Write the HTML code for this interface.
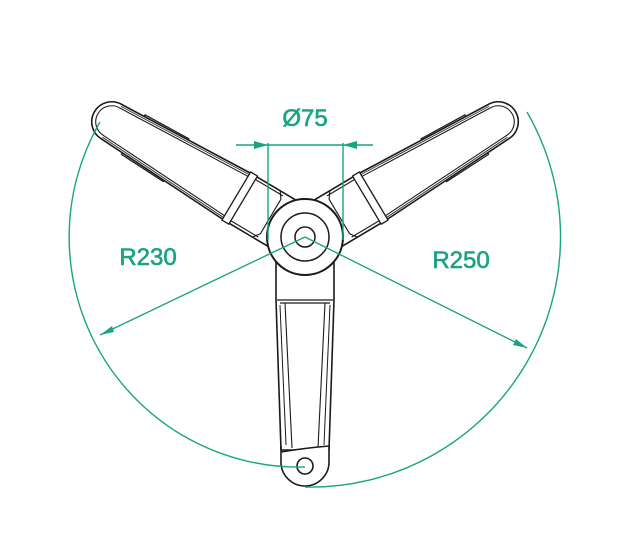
<!DOCTYPE html>
<html><head><style>html,body{margin:0;padding:0;background:#fff;width:629px;height:544px;overflow:hidden}</style></head>
<body>
<svg width="629" height="544" viewBox="0 0 629 544" xmlns="http://www.w3.org/2000/svg">
<defs>
<g id="arm" fill="#fff" stroke="#1a1a1a" stroke-width="1.6" stroke-linejoin="round">
  <path d="M150,-25 L200,-23 L200,23 L150,25 Z" stroke-width="1.2"/>
  <path d="M28,-27 L78,-27 L225,-20 A20,20 0 0 1 225,20 L78,27 L28,27 Z"/>
  <path d="M78,-23 L225,-16 A16,16 0 0 1 225,16 L78,23" fill="none" stroke-width="1.1"/>
  <path d="M80,-25 L225,-18 M80,25 L225,18" fill="none" stroke-width="0.8"/>
  <path d="M40,-24 L72,-24 M40,24 L72,24" stroke-width="1.1"/>
  <path d="M72,-28 L80,-28 L80,28 L72,28 Z" stroke-width="1.3"/>
  <path d="M45,-27 L40,-20 L40,20 L45,27" fill="none" stroke-width="1.1"/>
</g>
</defs>
<use href="#arm" transform="translate(305,237) rotate(-149.2)"/>
<use href="#arm" transform="translate(305,237) rotate(-30.8)"/>
<!-- bottom arm -->
<g fill="#fff" stroke="#1a1a1a" stroke-width="1.6" stroke-linejoin="round">
  <path d="M276,262 L334,262 L334,300 L329,450 L281,450 L276,300 Z"/>
  <path d="M277,300 L333,300 M280,303 L330,303" stroke-width="1.2"/>
  <path d="M285,303 L292,448 M325,303 L318,448" stroke-width="1.1"/>
  <path d="M280,305 L286,445 M330,305 L324,445" stroke-width="1"/>
  <path d="M281,446 L281,462 A24,24 0 0 0 329,462 L329,446 Q305,448 281,452" />
  <circle cx="305" cy="466" r="8"/>
</g>
<!-- hub -->
<g fill="#fff" stroke="#1a1a1a">
  <circle cx="305" cy="237" r="38" stroke-width="2"/>
  <circle cx="305" cy="237" r="24" stroke-width="1.5"/>
  <circle cx="305" cy="237" r="10" stroke-width="1.5"/>
</g>
<!-- dimensions -->
<g stroke="#1aa383" stroke-width="1.4" fill="none">
  <path d="M100,122 A230,230 0 0 0 305,467"/>
  <path d="M527,112 A250,250 0 0 1 305,487"/>
  <path d="M305,237 L100,335 M305,237 L527,348"/>
  <path d="M268,143 L268,240 M343,143 L343,240"/>
  <path d="M236,145 L373,145"/>
</g>
<g fill="#1aa383">
  <path d="M100,335 L112,326 L114,332 Z"/>
  <path d="M527,348 L513,345 L516,339 Z"/>
  <path d="M268,145 L254,141 L254,149 Z"/>
  <path d="M343,145 L357,141 L357,149 Z"/>
</g>
<g font-family="Liberation Sans, sans-serif" font-size="24" fill="#1aa383" stroke="#1aa383" stroke-width="0.6" text-anchor="middle">
  <text x="305" y="126">Ø75</text>
  <text x="148" y="265">R230</text>
  <text x="461" y="268">R250</text>
</g>
</svg>
</body></html>
